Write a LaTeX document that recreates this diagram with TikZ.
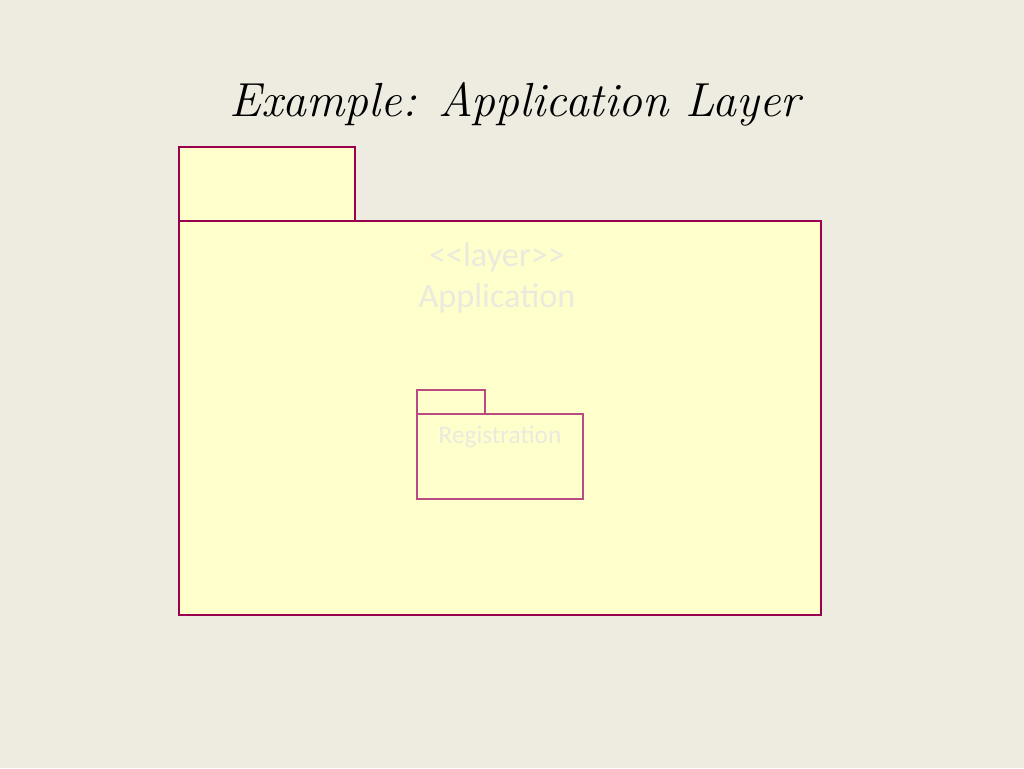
\documentclass[tikz,border=0pt]{standalone}
\usepackage{fontspec}
\setsansfont{Carlito}
\definecolor{slidebg}{RGB}{238,235,225}
\definecolor{pkgfill}{RGB}{255,255,204}
\definecolor{pkgline}{RGB}{153,0,77}
\definecolor{pkgtext}{RGB}{236,233,222}
\tikzset{
  pkg/.style={draw=pkgline,fill=pkgfill,line width=1.2pt},
  subpkg/.style={draw=pkgline!70,fill=pkgfill,line width=0.6pt},
  pkglabel/.style={text=pkgtext,font=\sffamily,inner sep=0pt}
}
\begin{document}
\begin{tikzpicture}[x=0.02cm,y=-0.02cm]
\fill[slidebg] (0,0) rectangle (1024,768);
\useasboundingbox (0,0) rectangle (1024,768);
% Title
\node[font=\itshape\fontsize{27.2}{32}\selectfont,inner sep=0pt] (title) at (515,104) {Example: Application Layer};

% Outer package: tab and body
\draw[pkg] (179,147) rectangle (355,221) coordinate (tab);
\draw[pkg] (179,221) rectangle (821,615) coordinate (layer);
\node[pkglabel,font=\sffamily\fontsize{19.5}{23}\selectfont] (stereo) at (497,257) {{<}{<}layer{>}{>}};
\node[pkglabel,font=\sffamily\fontsize{19.5}{23}\selectfont] (appname) at (497,298) {Application};

% Inner package
\draw[subpkg] (417,390) rectangle (485,414) coordinate (regtab);
\draw[subpkg] (417,414) rectangle (583,499) coordinate (reg);
\node[pkglabel,font=\sffamily\fontsize{14.4}{17}\selectfont] (regname) at (500,437) {Registration};
\end{tikzpicture}
\end{document}
